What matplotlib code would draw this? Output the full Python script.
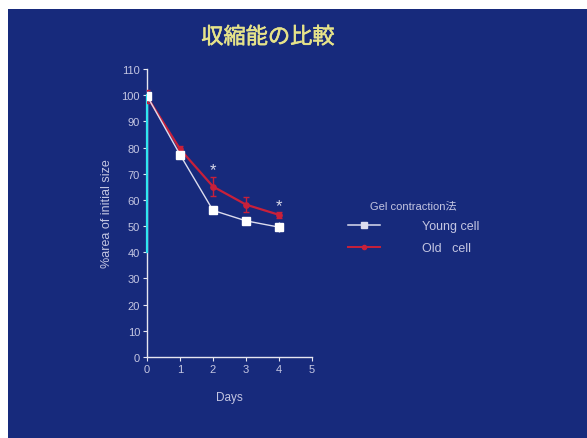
import matplotlib
matplotlib.use("Agg")
import matplotlib.pyplot as plt
import matplotlib.patheffects as pe
from matplotlib.patches import Rectangle
from matplotlib.lines import Line2D

plt.rcParams['font.family'] = ['Liberation Sans', 'Noto Sans CJK JP', 'DejaVu Sans']

days = [0, 1, 2, 3, 4]
young = [99.8, 77.3, 56.0, 52.0, 49.6]
young_err = [1.0, 1.0, 1.0, 1.0, 1.8]
old = [99.5, 79.4, 65.1, 58.2, 54.3]
old_err = [2.5, 1.2, 3.6, 3.0, 1.2]
star_days = [2, 4]
star_vals = [71.5, 58.0]
cyan_span = [40, 100]
yticks = list(range(0, 111, 10))
xticks = [0, 1, 2, 3, 4, 5]
title = "収縮能の比較"
legend_title = "Gel contraction法"
labels = ["Young cell", "Old   cell"]

bg = "#172a7c"
txt = "#c4c6e2"
fig = plt.figure(figsize=(5.87, 4.39), dpi=100, facecolor="white")
bgax = fig.add_axes([0, 0, 1, 1], zorder=-5)
bgax.set_axis_off()
bgax.set_xlim(0, 1)
bgax.set_ylim(0, 1)
bgax.add_patch(Rectangle((8/587, 0), 1, 1 - 10/439, facecolor=bg, edgecolor="none"))

ax = fig.add_axes([147/587, 1 - 358/439, 165/587, 288/439], zorder=2)
ax.set_facecolor("none")
ax.set_xlim(0, 5)
ax.set_ylim(0, 110)
for s in ["top", "right"]:
    ax.spines[s].set_visible(False)
for s in ["left", "bottom"]:
    ax.spines[s].set_color("#e6e6f0")
    ax.spines[s].set_linewidth(1.0)
ax.set_xticks(xticks)
ax.set_yticks(yticks)
ax.tick_params(colors="#e6e6f0", labelcolor=txt, labelsize=8, length=3, width=0.8, pad=2)
ax.set_xlabel("Days", color=txt, fontsize=8.5, labelpad=12)
ax.set_ylabel("%area of initial size", color=txt, fontsize=9, labelpad=6)

ax.plot([0, 0], cyan_span, color="#30e6f0", lw=1.6, zorder=3, clip_on=False)

ax.errorbar(days, old, yerr=old_err, color="#c8203a", lw=1.6, marker="o", ms=3.8,
            capsize=2, capthick=1.0, elinewidth=1.0, zorder=4)
ax.errorbar(days, young, yerr=young_err, color="#dcdcee", lw=1.0, marker="s", ms=5.5,
            mfc="white", mec="white", capsize=0, elinewidth=1.0, zorder=5)
for d, v in zip(star_days, star_vals):
    ax.text(d, v, "*", color="#d8d8e8", fontsize=12, ha="center", va="center")

fig.text(268/587, 1 - 38/439, title, color="#e6e38a", fontsize=16,
         family=["Noto Sans CJK JP"], ha="center", va="center",
         path_effects=[pe.withStroke(linewidth=0.4, foreground="#e6e38a")])

handles = [Line2D([], [], color="#dcdcee", marker="s", ms=5, lw=1.1),
           Line2D([], [], color="#c8203a", marker="o", ms=3, lw=1.4)]
leg = fig.legend(handles, labels, loc="upper left", bbox_to_anchor=(337/587, 1 - 190/439),
                 frameon=False, fontsize=9, labelcolor=txt, handlelength=2.5,
                 handletextpad=3.4, labelspacing=0.8)
leg.set_title(legend_title, prop={"size": 8, "family": ['Liberation Sans', 'Noto Sans CJK JP']})
leg.get_title().set_color(txt)
leg._legend_box.align = "center"

fig.savefig("out.png", dpi=100, facecolor="white")
